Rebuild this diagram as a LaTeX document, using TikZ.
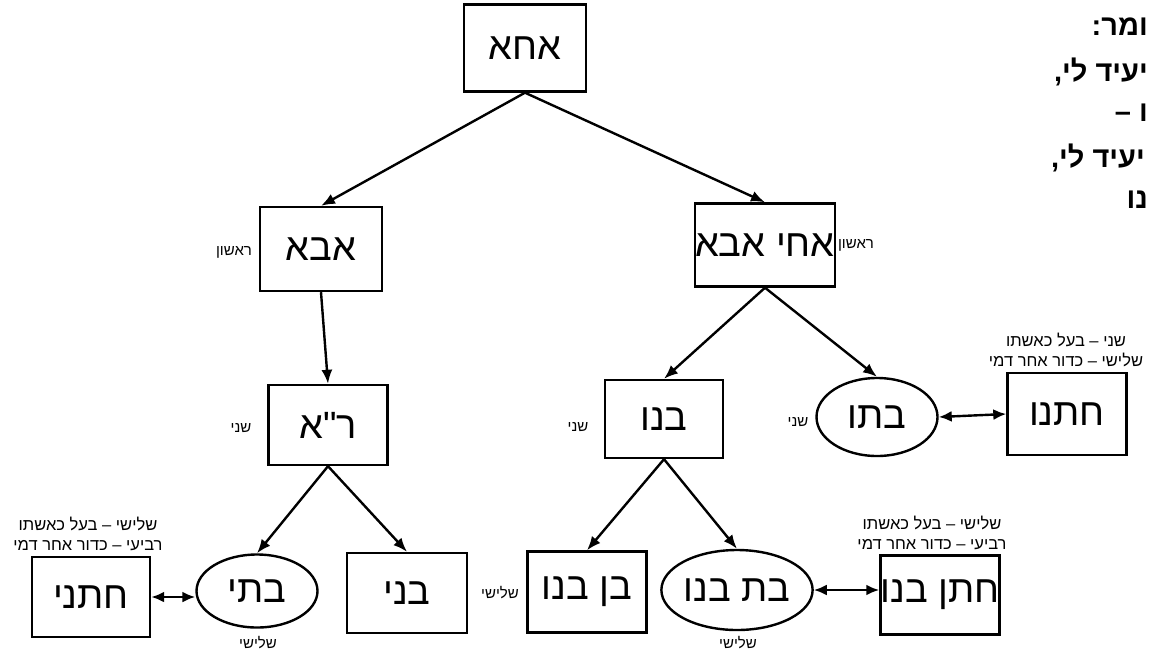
\documentclass[tikz,border=0pt]{standalone}
\usepackage{fontspec}
\newfontfamily\hebfont[Script=Hebrew]{Liberation Sans}
\TeXXeTstate=1
\usetikzlibrary{arrows.meta,shapes.geometric}
\newcommand\he[1]{\beginR#1\endR}
\tikzset{
  person/.style={draw,line width=2.4pt,rectangle,inner sep=0pt,font=\hebfont\fontsize{38}{42}\selectfont},
  female/.style={draw,line width=2.4pt,ellipse,inner sep=0pt,font=\hebfont\fontsize{38}{42}\selectfont},
  gen/.style={inner sep=0pt,font=\hebfont\fontsize{15}{17}\selectfont},
  note/.style={inner sep=0pt,align=center,font=\hebfont\fontsize{16.5}{19.5}\selectfont},
  bigtext/.style={inner sep=0pt,anchor=east,font=\hebfont\bfseries\fontsize{29}{32}\selectfont},
  edge/.style={line width=2.4pt,-{Latex[length=14pt,width=11pt]}},
  link/.style={line width=2.4pt,{Latex[length=13pt,width=11pt]}-{Latex[length=13pt,width=11pt]}}
}
\begin{document}
\begin{tikzpicture}[x=1pt,y=-1pt]
\useasboundingbox[fill=white] (0,0) rectangle (1150,659);
% top-right partial text
\node[bigtext] (t1) at (1148,27) {\he{ומר:}};
\node[bigtext] (t2) at (1148,72) {\he{יעיד לי,}};
\node[bigtext] (t3) at (1148,113) {\he{ו –}};
\node[bigtext] (t4) at (1145,158) {\he{יעיד לי,}};
\node[bigtext] (t5) at (1148,200) {\he{נו}};
% nodes
\node[person,minimum width=122pt,minimum height=87pt] (A) at (525,48) {\he{אחא}};
\node[person,minimum width=122pt,minimum height=84pt] (Abba) at (321,249) {\he{אבא}};
\node[person,minimum width=121pt,minimum height=83pt] (AchiAbba) at (765,245) {\he{אחי אבא}};
\node[person,minimum width=119pt,minimum height=80pt] (RA) at (328,425) {\he{ר"א}};
\node[person,minimum width=120pt,minimum height=80pt] (Bni) at (407,593) {\he{בני}};
\node[female,minimum width=121pt,minimum height=73pt] (Bti) at (257,591) {\he{בתי}};
\node[person,minimum width=118pt,minimum height=80pt] (Chatani) at (91,597) {\he{חתני}};
\node[person,minimum width=118pt,minimum height=78pt] (Bno) at (664,419) {\he{בנו}};
\node[female,minimum width=121pt,minimum height=78pt] (Bto) at (877,417) {\he{בתו}};
\node[person,minimum width=119pt,minimum height=82pt] (Chatno) at (1067,414) {\he{חתנו}};
\node[person,minimum width=119pt,minimum height=81pt] (BenBno) at (587,592) {\he{בן בנו}};
\node[female,minimum width=119pt,minimum height=80pt] (BatBno) at (737,590) {\he{בת בנו}};
\node[person,minimum width=115pt,minimum height=79pt] (ChatanBno) at (940,595) {\he{חתן בנו}};
% generation labels
\node[gen] (g1) at (234,252) {\he{ראשון}};
\node[gen] (g2) at (856,245) {\he{ראשון}};
\node[gen] (g3) at (241,428) {\he{שני}};
\node[gen] (g4) at (578,427) {\he{שני}};
\node[gen] (g5) at (798,422) {\he{שני}};
\node[gen] (g6) at (258,643) {\he{שלישי}};
\node[gen] (g7) at (500,593) {\he{שלישי}};
\node[gen] (g8) at (738,643) {\he{שלישי}};
% notes
\node[note] (n1) at (88,534) {\he{שלישי – בעל כאשתו}\\\he{רביעי – כדור אחר דמי}};
\node[note] (n2) at (1066,350) {\he{שני – בעל כאשתו}\\\he{שלישי – כדור אחר דמי}};
\node[note] (n3) at (932,533) {\he{שלישי – בעל כאשתו}\\\he{רביעי – כדור אחר דמי}};
% edges
\draw[edge] (A.south) -- (Abba.north);
\draw[edge] (A.south) -- (AchiAbba.north);
\draw[edge] (Abba.south) -- (RA.north);
\draw[edge] (RA.south) -- (Bti.north);
\draw[edge] (RA.south) -- (Bni.north);
\draw[edge] (AchiAbba.south) -- (Bno.north);
\draw[edge] (AchiAbba.south) -- (Bto.north);
\draw[edge] (Bno.south) -- (BenBno.north);
\draw[edge] (Bno.south) -- (BatBno.north);
\draw[link] (Chatani.east) -- (Chatani.east -| Bti.west);
\draw[link] (Bto.east) -- (Chatno.west);
\draw[link] (BatBno.east) -- (BatBno.east -| ChatanBno.west);
\end{tikzpicture}
\end{document}
